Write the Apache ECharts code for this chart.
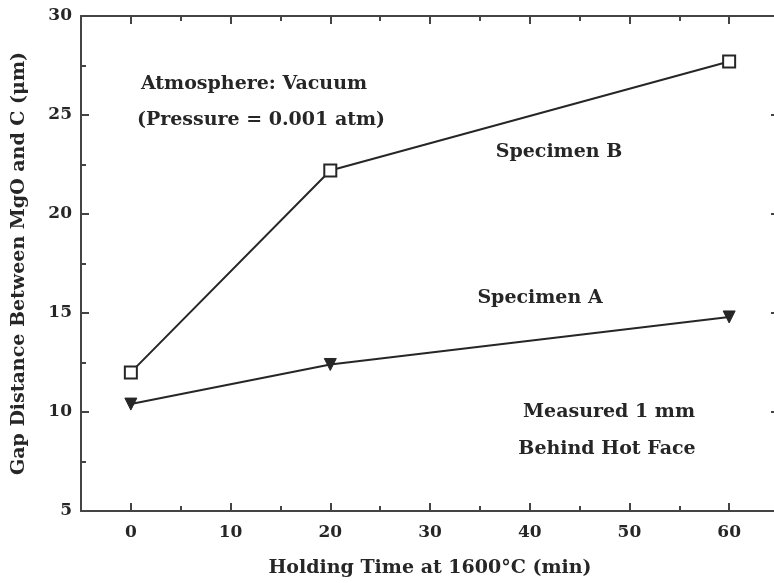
<!DOCTYPE html>
<html>
<head>
<meta charset="utf-8">
<script src="https://cdn.jsdelivr.net/npm/echarts@6/dist/echarts.min.js"></script>
<style>html,body{margin:0;padding:0;background:#fff}#c{width:774px;height:583px}</style>
</head>
<body>
<div id="c"></div>
<script>
const holdingTime = [0, 20, 60];
const specimenA = [10.4, 12.4, 14.8];
const specimenB = [12.0, 22.2, 27.7];
const xMajorTicks = [0, 10, 20, 30, 40, 50, 60];
const xMinorTicks = [5, 15, 25, 35, 45, 55];
const xTitle = 'Holding Time at 1600°C (min)';
const yTitle = 'Gap Distance Between MgO and C (μm)';

const FONT = 'DejaVu Serif';
const INK = '#262626';
const txt = {fontFamily: FONT, fontWeight: 'bold', color: INK, fontSize: 17};
const ANN = 'bold 19px "DejaVu Serif"';

function xAx(pos, ticks, len, showLine, showLabel, name) {
  return {
    type: 'value', position: pos, min: -5, max: 65,
    axisLine: {show: showLine, onZero: false, lineStyle: {color: '#444', width: 2}},
    axisTick: {show: true, inside: true, length: len, customValues: ticks, lineStyle: {color: '#444', width: 2}},
    axisLabel: {show: showLabel, customValues: ticks, margin: 13, ...txt},
    splitLine: {show: false},
    name: name || '', nameLocation: 'middle', nameGap: 48,
    nameTextStyle: {...txt, fontSize: 19}
  };
}
function yAx(pos, showLabel, name) {
  return {
    type: 'value', position: pos, min: 5, max: 30, interval: 5,
    axisLine: {show: true, onZero: false, lineStyle: {color: '#444', width: 2}},
    axisTick: {show: true, inside: true, length: 8, lineStyle: {color: '#444', width: 2}},
    minorTick: {show: true, splitNumber: 2, length: 5, lineStyle: {color: '#444', width: 2}},
    axisLabel: {show: showLabel, margin: 9, ...txt},
    splitLine: {show: false},
    name: name || '', nameLocation: 'middle', nameGap: 52, nameRotate: 90,
    nameTextStyle: {...txt, fontSize: 19}
  };
}

const chart = echarts.init(document.getElementById('c'), null, {renderer: 'canvas'});
chart.setOption({
  animation: false,
  backgroundColor: '#fff',
  grid: {left: 81, top: 16, width: 698, height: 495, containLabel: false, outerBoundsMode: 'none'},
  xAxis: [
    xAx('bottom', xMajorTicks, 8, true, true, xTitle),
    xAx('bottom', xMinorTicks, 5, false, false),
    xAx('top', xMajorTicks, 8, true, false),
    xAx('top', xMinorTicks, 5, false, false)
  ],
  yAxis: [
    yAx('left', true, yTitle),
    yAx('right', false)
  ],
  series: [
    {
      name: 'Specimen B', type: 'line', xAxisIndex: 0, yAxisIndex: 0,
      data: holdingTime.map((t, i) => [t, specimenB[i]]),
      symbol: 'rect', symbolSize: 12,
      lineStyle: {color: INK, width: 2},
      itemStyle: {color: '#fff', borderColor: INK, borderWidth: 2}
    },
    {
      name: 'Specimen A', type: 'line', xAxisIndex: 0, yAxisIndex: 0,
      data: holdingTime.map((t, i) => [t, specimenA[i]]),
      symbol: 'triangle', symbolRotate: 180, symbolSize: 12,
      lineStyle: {color: INK, width: 2},
      itemStyle: {color: INK, borderColor: INK, borderWidth: 1}
    }
  ],
  graphic: [
    {type: 'text', x: 254, y: 84, style: {text: 'Atmosphere: Vacuum', align: 'center', verticalAlign: 'middle', font: ANN, fill: INK}},
    {type: 'text', x: 261, y: 120, style: {text: '(Pressure = 0.001 atm)', align: 'center', verticalAlign: 'middle', font: ANN, fill: INK}},
    {type: 'text', x: 559, y: 152, style: {text: 'Specimen B', align: 'center', verticalAlign: 'middle', font: ANN, fill: INK}},
    {type: 'text', x: 540, y: 298, style: {text: 'Specimen A', align: 'center', verticalAlign: 'middle', font: ANN, fill: INK}},
    {type: 'text', x: 609, y: 412, style: {text: 'Measured 1 mm', align: 'center', verticalAlign: 'middle', font: ANN, fill: INK}},
    {type: 'text', x: 607, y: 449, style: {text: 'Behind Hot Face', align: 'center', verticalAlign: 'middle', font: ANN, fill: INK}}
  ]
});
</script>
</body>
</html>
